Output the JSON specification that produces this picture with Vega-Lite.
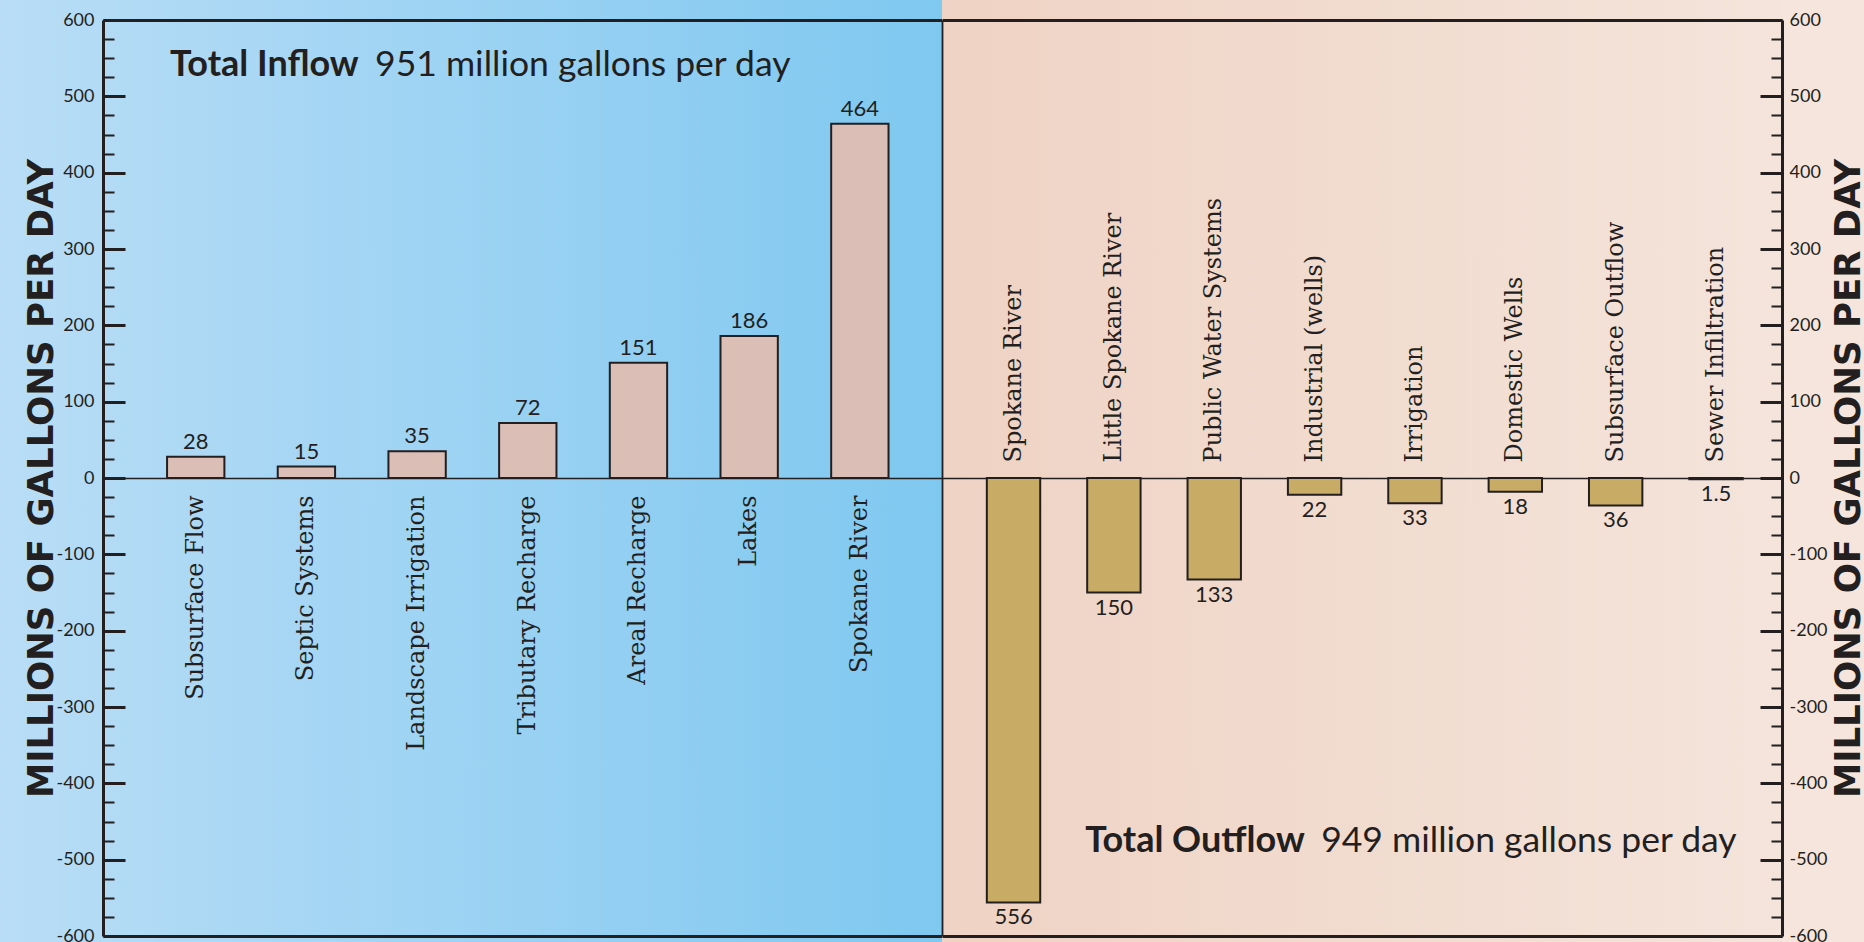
{
  "$schema": "https://vega.github.io/schema/vega-lite/v6.json",
  "padding": 0,
  "background": "#f5e5dc",
  "spacing": 0,
  "bounds": "flush",
  "datasets": {
    "inflow": [
      {"source": "Subsurface Flow", "value": 28, "label": "28"},
      {"source": "Septic Systems", "value": 15, "label": "15"},
      {"source": "Landscape Irrigation", "value": 35, "label": "35"},
      {"source": "Tributary Recharge", "value": 72, "label": "72"},
      {"source": "Areal Recharge", "value": 151, "label": "151"},
      {"source": "Lakes", "value": 186, "label": "186"},
      {"source": "Spokane River", "value": 464, "label": "464"}
    ],
    "outflow": [
      {"source": "Spokane River", "value": -556, "label": "556"},
      {"source": "Little Spokane River", "value": -150, "label": "150"},
      {"source": "Public Water Systems", "value": -133, "label": "133"},
      {"source": "Industrial (wells)", "value": -22, "label": "22"},
      {"source": "Irrigation", "value": -33, "label": "33"},
      {"source": "Domestic Wells", "value": -18, "label": "18"},
      {"source": "Subsurface Outflow", "value": -36, "label": "36"},
      {"source": "Sewer Infiltration", "value": -1.5, "label": "1.5"}
    ]
  },
  "hconcat": [
    {
      "width": 942,
      "height": 942,
      "view": {"stroke": null, "fill": {"gradient": "linear", "x1": 0, "y1": 0, "x2": 1, "y2": 0, "stops": [{"offset": 0, "color": "#b9ddf6"}, {"offset": 1, "color": "#7fc8f0"}]}},
      "data": {"name": "inflow"},
      "layer": [
        {
          "mark": {"type": "bar", "fill": "#dbbeb6", "stroke": "#231f20", "strokeWidth": 2},
          "encoding": {
            "x": {
              "field": "source", "type": "nominal", "sort": null,
              "scale": {"range": [103, 942], "paddingInner": 0.482, "paddingOuter": 0.531, "align": 0.545},
              "axis": {"orient": "bottom", "offset": -464, "domain": false, "ticks": false, "grid": false, "labelAngle": -90, "labelAlign": "right", "labelBaseline": "middle", "labelPadding": 17, "labelFont": "DejaVu Serif", "labelFontSize": 24, "labelColor": "#231f20", "labelLimit": 400, "title": null}
            },
            "y": {
              "field": "value", "type": "quantitative",
              "scale": {"domain": [-600, 600], "range": [936, 20], "nice": false, "zero": false},
              "axis": {
                "orient": "left", "offset": -103,
                "values": [-600,-575,-550,-525,-500,-475,-450,-425,-400,-375,-350,-325,-300,-275,-250,-225,-200,-175,-150,-125,-100,-75,-50,-25,0,25,50,75,100,125,150,175,200,225,250,275,300,325,350,375,400,425,450,475,500,525,550,575,600],
                "domain": true, "domainWidth": 3, "domainColor": "#231f20",
                "tickColor": "#231f20",
                "tickSize": {"condition": {"test": "datum.value % 100 === 0", "value": -22}, "value": -11},
                "tickWidth": {"condition": {"test": "datum.value % 100 === 0", "value": 3}, "value": 2},
                "labelExpr": "datum.value % 100 === 0 ? '' + datum.value : ''",
                "labelPadding": 31, "labelFont": "Lato", "labelFontSize": 18, "labelColor": "#231f20", "labelFlush": false,
                "grid": true, "gridColor": "#231f20",
                "gridWidth": {"condition": {"test": "abs(datum.value) === 600", "value": 3}, "value": 1.5},
                "gridOpacity": {"condition": {"test": "datum.value % 600 === 0", "value": 1}, "value": 0},
                "title": "MILLIONS OF GALLONS PER DAY", "titleFont": "DejaVu Sans", "titleFontSize": 35.5, "titleFontWeight": "bold", "titleColor": "#231f20", "titlePadding": -4, "titleBaseline": "bottom"
              }
            }
          }
        },
        {
          "mark": {"type": "text", "baseline": "bottom", "dy": -3, "font": "Lato", "fontSize": 22, "color": "#231f20"},
          "encoding": {
            "x": {"field": "source", "type": "nominal", "sort": null, "axis": null},
            "y": {"field": "value", "type": "quantitative", "axis": null},
            "text": {"field": "label"}
          }
        },
        {
          "data": {"values": [{"t": "Total Inflow"}]},
          "mark": {"type": "text", "align": "left", "baseline": "alphabetic", "dx": 3, "font": "Lato", "fontSize": 36, "fontWeight": "bold", "color": "#231f20"},
          "encoding": {
            "x": {"datum": "Subsurface Flow", "bandPosition": 0, "axis": null},
            "y": {"datum": 526.6, "axis": null},
            "text": {"field": "t"}
          }
        },
        {
          "data": {"values": [{"t": "951 million gallons per day"}]},
          "mark": {"type": "text", "align": "left", "baseline": "alphabetic", "dx": 208, "font": "Lato", "fontSize": 35.5, "color": "#231f20"},
          "encoding": {
            "x": {"datum": "Subsurface Flow", "bandPosition": 0, "axis": null},
            "y": {"datum": 526.6, "axis": null},
            "text": {"field": "t"}
          }
        }
      ],
      "resolve": {"axis": {"x": "independent", "y": "independent"}}
    },
    {
      "width": 840,
      "height": 942,
      "view": {"stroke": null, "fill": {"gradient": "linear", "x1": 0, "y1": 0, "x2": 1, "y2": 0, "stops": [{"offset": 0, "color": "#efd3c4"}, {"offset": 1, "color": "#f4e4db"}]}},
      "data": {"name": "outflow"},
      "layer": [
        {
          "mark": {"type": "bar", "fill": "#c8ab65", "stroke": "#231f20", "strokeWidth": 2},
          "encoding": {
            "x": {
              "field": "source", "type": "nominal", "sort": null,
              "scale": {"paddingInner": 0.468, "paddingOuter": 0.419, "align": 0.533},
              "axis": {"orient": "top", "offset": -478, "domain": false, "ticks": false, "grid": false, "labelAngle": -90, "labelAlign": "left", "labelBaseline": "middle", "labelPadding": 16, "labelFont": "DejaVu Serif", "labelFontSize": 24, "labelColor": "#231f20", "labelLimit": 400, "title": null}
            },
            "y": {
              "field": "value", "type": "quantitative",
              "scale": {"domain": [-600, 600], "range": [936, 20], "nice": false, "zero": false},
              "axis": {
                "orient": "right",
                "values": [-600,-575,-550,-525,-500,-475,-450,-425,-400,-375,-350,-325,-300,-275,-250,-225,-200,-175,-150,-125,-100,-75,-50,-25,0,25,50,75,100,125,150,175,200,225,250,275,300,325,350,375,400,425,450,475,500,525,550,575,600],
                "domain": true, "domainWidth": 3, "domainColor": "#231f20",
                "tickColor": "#231f20",
                "tickSize": {"condition": {"test": "datum.value % 100 === 0", "value": -22}, "value": -11},
                "tickWidth": {"condition": {"test": "datum.value % 100 === 0", "value": 3}, "value": 2},
                "labelExpr": "datum.value % 100 === 0 ? '' + datum.value : ''",
                "labelPadding": 29, "labelFont": "Lato", "labelFontSize": 18, "labelColor": "#231f20", "labelFlush": false,
                "grid": true, "gridColor": "#231f20",
                "gridWidth": {"condition": {"test": "abs(datum.value) === 600", "value": 3}, "value": 1.5},
                "gridOpacity": {"condition": {"test": "datum.value % 600 === 0", "value": 1}, "value": 0},
                "title": "MILLIONS OF GALLONS PER DAY", "titleFont": "DejaVu Sans", "titleFontSize": 35.5, "titleFontWeight": "bold", "titleColor": "#231f20", "titlePadding": 4, "titleAngle": -90, "titleBaseline": "top"
              }
            }
          }
        },
        {
          "mark": {"type": "text", "baseline": "top", "dy": 5, "font": "Lato", "fontSize": 22, "color": "#231f20"},
          "encoding": {
            "x": {"field": "source", "type": "nominal", "sort": null, "axis": null},
            "y": {"field": "value", "type": "quantitative", "axis": {"orient": "left", "domain": true, "domainWidth": 1.8, "domainColor": "#231f20", "ticks": false, "labels": false, "grid": false, "title": null}},
            "text": {"field": "label"}
          }
        },
        {
          "data": {"values": [{"t": "Total Outflow"}]},
          "mark": {"type": "text", "align": "left", "baseline": "alphabetic", "dx": -2, "font": "Lato", "fontSize": 36, "fontWeight": "bold", "color": "#231f20"},
          "encoding": {
            "x": {"datum": "Little Spokane River", "bandPosition": 0, "axis": null},
            "y": {"datum": -490, "axis": null},
            "text": {"field": "t"}
          }
        },
        {
          "data": {"values": [{"t": "949 million gallons per day"}]},
          "mark": {"type": "text", "align": "left", "baseline": "alphabetic", "dx": 234, "font": "Lato", "fontSize": 35.5, "color": "#231f20"},
          "encoding": {
            "x": {"datum": "Little Spokane River", "bandPosition": 0, "axis": null},
            "y": {"datum": -490, "axis": null},
            "text": {"field": "t"}
          }
        }
      ],
      "resolve": {"axis": {"x": "independent", "y": "independent"}}
    }
  ]
}
